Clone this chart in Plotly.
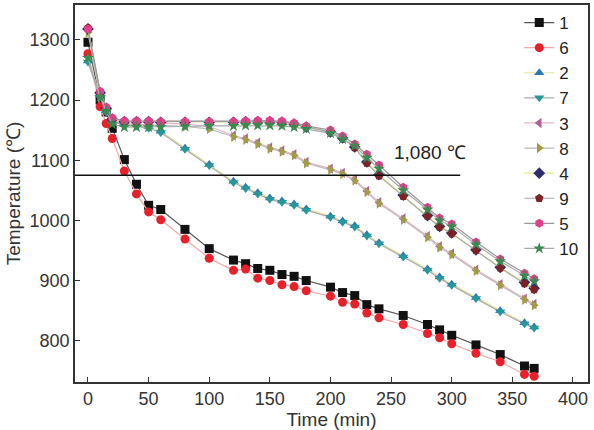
import plotly.graph_objects as go

times = [0, 10, 15, 20, 30, 40, 50, 60, 80, 100, 120, 130, 140, 150, 160, 170, 180,
         200, 210, 220, 230, 240, 260, 280, 290, 300, 320, 340, 360, 368]

s1 = [1296, 1200, 1180, 1153, 1101, 1060, 1025, 1018, 985, 953, 934, 928, 920, 917, 910, 907, 900,
      889, 880, 875, 860, 853, 842, 827, 818, 809, 793, 777, 758, 754]
s6 = [1277, 1189, 1161, 1136, 1082, 1044, 1014, 1001, 969, 937, 917, 919, 904, 900, 893, 890, 883,
      874, 864, 861, 846, 838, 827, 812, 805, 795, 779, 765, 744, 741]
s2 = [1265, 1208, 1182, 1168, 1162, 1160, 1156, 1148, 1120, 1093, 1065, 1055, 1046, 1037, 1032, 1027, 1019,
      1007, 999, 991, 976, 963, 941, 919, 906, 894, 872, 850, 830, 823]
s7 = [1263, 1205, 1180, 1164, 1158, 1157, 1153, 1146, 1118, 1091, 1063, 1053, 1044, 1035, 1030, 1025, 1017,
      1005, 997, 989, 974, 961, 939, 917, 904, 892, 870, 848, 828, 821]
s3 = [1318, 1212, 1186, 1168, 1164, 1164, 1163, 1162, 1160, 1156, 1141, 1136, 1129, 1121, 1116, 1110, 1097,
      1086, 1079, 1068, 1049, 1030, 1003, 974, 957, 945, 918, 894, 870, 861]
s8 = [1312, 1208, 1184, 1166, 1160, 1160, 1159, 1158, 1156, 1152, 1139, 1134, 1127, 1119, 1114, 1108, 1095,
      1084, 1077, 1066, 1047, 1028, 1001, 972, 955, 943, 916, 892, 868, 859]
s4 = [1318, 1212, 1186, 1168, 1164, 1164, 1164, 1163, 1163, 1163, 1163, 1164, 1164, 1164, 1163, 1160, 1155,
      1147, 1137, 1122, 1097, 1076, 1042, 1008, 990, 979, 951, 922, 897, 887]
s9 = [1320, 1214, 1188, 1170, 1165, 1165, 1165, 1164, 1164, 1164, 1164, 1165, 1165, 1165, 1164, 1160, 1155,
      1147, 1137, 1121, 1095, 1074, 1040, 1007, 989, 978, 950, 921, 895, 885]
s5 = [1318, 1214, 1188, 1170, 1165, 1165, 1165, 1164, 1164, 1164, 1164, 1165, 1166, 1166, 1165, 1162, 1157,
      1150, 1140, 1127, 1110, 1092, 1055, 1022, 1004, 994, 964, 936, 912, 903]
s10 = [1270, 1205, 1182, 1160, 1155, 1155, 1155, 1155, 1156, 1157, 1157, 1158, 1158, 1158, 1157, 1155, 1152,
       1145, 1135, 1124, 1104, 1086, 1050, 1018, 1000, 990, 960, 932, 908, 899]

names = ["1", "6", "2", "7", "3", "8", "4", "9", "5", "10"]
series = [s1, s6, s2, s7, s3, s8, s4, s9, s5, s10]
symbols = ["square", "circle", "triangle-up", "triangle-down", "triangle-left",
           "triangle-right", "diamond", "pentagon", "hexagon", "star"]
marker_colors = ["#111111", "#e8202a", "#2f78b8", "#26979a", "#b0609a",
                 "#a09d45", "#2b2d6e", "#7c2226", "#e0408a", "#3a8a50"]
line_colors = ["#555555", "#f0a8a8", "#e6e6a0", "#aaaaaa", "#e8b4cc",
               "#bbbbbb", "#e6e690", "#aaaaaa", "#999999", "#aaaaaa"]

ref_temp = 1075
ref_end = 307
ref_label = "1,080 ℃"

FONT = "Liberation Sans, Arial, sans-serif"

fig = go.Figure()
for i, (nm, ys) in enumerate(zip(names, series)):
    fig.add_trace(go.Scatter(
        x=times, y=ys, name=nm, mode="lines+markers",
        line=dict(color=line_colors[i], width=1.2),
        marker=dict(symbol=symbols[i], color=marker_colors[i], size=9,
                    line=dict(width=0)),
    ))

fig.add_shape(type="line", xref="x", yref="y", x0=-10.7, x1=ref_end,
              y0=ref_temp, y1=ref_temp, line=dict(color="#111111", width=1.6))
fig.add_annotation(x=282, y=1112, xref="x", yref="y", text=ref_label,
                   showarrow=False, font=dict(size=19, color="#222222", family=FONT))

axis_common = dict(showline=True, linecolor="#333333", linewidth=1.5, mirror=True,
                   ticks="inside", ticklen=5, tickcolor="#333333", showgrid=False,
                   zeroline=False, tickfont=dict(size=18, color="#333333", family=FONT))

fig.update_xaxes(range=[-10.7, 412.4], tickvals=[0, 50, 100, 150, 200, 250, 300, 350, 400],
                 title=dict(text="Time (min)", font=dict(size=19, color="#333333", family=FONT),
                            standoff=2),
                 **axis_common)
fig.update_yaxes(range=[731.4, 1357.9], tickvals=[800, 900, 1000, 1100, 1200, 1300],
                 title=dict(text="Temperature (℃)", font=dict(size=19, color="#333333", family=FONT),
                            standoff=4),
                 **axis_common)

fig.update_layout(
    width=594, height=430,
    margin=dict(l=75, r=6, t=3, b=48),
    paper_bgcolor="white", plot_bgcolor="white",
    font=dict(family=FONT, color="#222222"),
    legend=dict(x=0.866, xanchor="left", y=1.0, yanchor="top",
                bgcolor="rgba(255,255,255,0)", borderwidth=0,
                font=dict(size=17, color="#222222", family=FONT),
                tracegroupgap=0, itemwidth=30),
    showlegend=True,
)

fig.write_html("out.html")
